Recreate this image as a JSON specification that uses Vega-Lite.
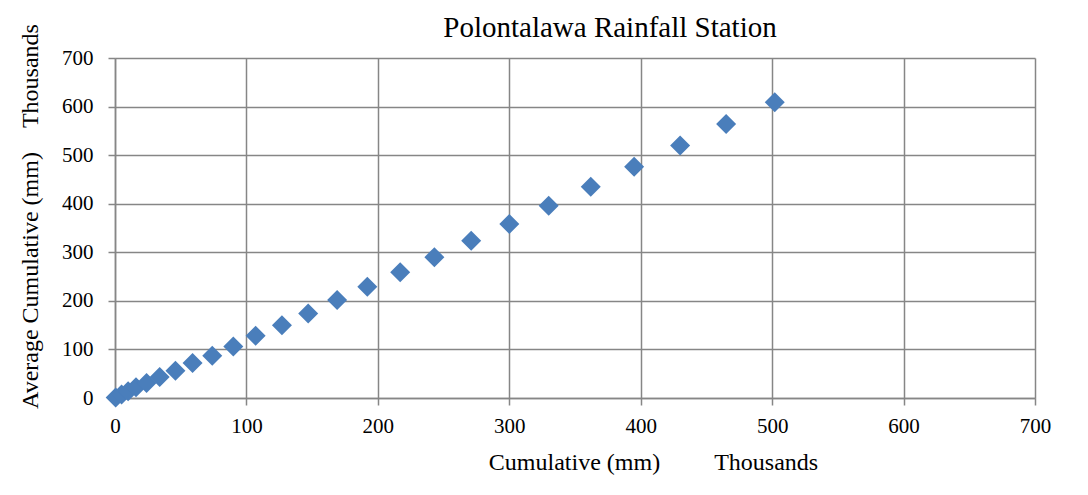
{
  "$schema": "https://vega.github.io/schema/vega-lite/v6.json",
  "width": 920,
  "height": 340,
  "autosize": {"type": "none"},
  "padding": {"left": 115, "top": 58, "right": 53, "bottom": 97},
  "background": "white",
  "title": {
    "text": "Polontalawa Rainfall Station",
    "font": "Liberation Serif",
    "fontSize": 29,
    "fontWeight": "normal",
    "color": "#000000",
    "anchor": "middle",
    "frame": "group",
    "dx": 35,
    "dy": 20,
    "offset": 1
  },
  "data": {
    "values": [
      {"cumulative": 0.5, "average": 1},
      {"cumulative": 5, "average": 7},
      {"cumulative": 10, "average": 14},
      {"cumulative": 16, "average": 22},
      {"cumulative": 24, "average": 31},
      {"cumulative": 34, "average": 43},
      {"cumulative": 46, "average": 56},
      {"cumulative": 59, "average": 72},
      {"cumulative": 74, "average": 87},
      {"cumulative": 90, "average": 106},
      {"cumulative": 107, "average": 128},
      {"cumulative": 127, "average": 150},
      {"cumulative": 147, "average": 174},
      {"cumulative": 169, "average": 202},
      {"cumulative": 192, "average": 229},
      {"cumulative": 217, "average": 259},
      {"cumulative": 243, "average": 290},
      {"cumulative": 271, "average": 324},
      {"cumulative": 300, "average": 358},
      {"cumulative": 330, "average": 396},
      {"cumulative": 362, "average": 435},
      {"cumulative": 395, "average": 476},
      {"cumulative": 430, "average": 520},
      {"cumulative": 465, "average": 564},
      {"cumulative": 502, "average": 609}
    ]
  },
  "mark": {
    "type": "point",
    "shape": "diamond",
    "filled": true,
    "size": 400,
    "color": "#4a7ebb",
    "opacity": 1
  },
  "encoding": {
    "x": {
      "field": "cumulative",
      "type": "quantitative",
      "scale": {"domain": [0, 700], "nice": false},
      "axis": {
        "values": [0, 100, 200, 300, 400, 500, 600, 700],
        "title": "Cumulative (mm)\u00a0\u00a0\u00a0\u00a0\u00a0\u00a0\u00a0\u00a0\u00a0Thousands",
        "titleX": 538,
        "titleY": 52,
        "titleAnchor": "middle",
        "titleAlign": "center",
        "labelPadding": 10,
        "labelFlush": false
      }
    },
    "y": {
      "field": "average",
      "type": "quantitative",
      "scale": {"domain": [0, 700], "nice": false},
      "axis": {
        "values": [0, 100, 200, 300, 400, 500, 600, 700],
        "title": "Average Cumulative (mm)\u00a0\u00a0\u00a0\u00a0Thousands",
        "titleX": -85,
        "titleY": 158,
        "titleAlign": "center",
        "titleBaseline": "middle",
        "titleAngle": -90,
        "labelPadding": 15,
        "labelFlush": false
      }
    }
  },
  "config": {
    "view": {"stroke": null},
    "axis": {
      "labelFont": "Liberation Serif",
      "labelFontSize": 21,
      "labelColor": "#000000",
      "titleFont": "Liberation Serif",
      "titleFontSize": 24,
      "titleFontWeight": "normal",
      "titleColor": "#000000",
      "gridColor": "#868686",
      "gridWidth": 1.5,
      "gridOpacity": 1,
      "domainColor": "#868686",
      "domainWidth": 1.5,
      "tickColor": "#868686",
      "tickWidth": 1.5,
      "tickSize": 7
    }
  }
}
